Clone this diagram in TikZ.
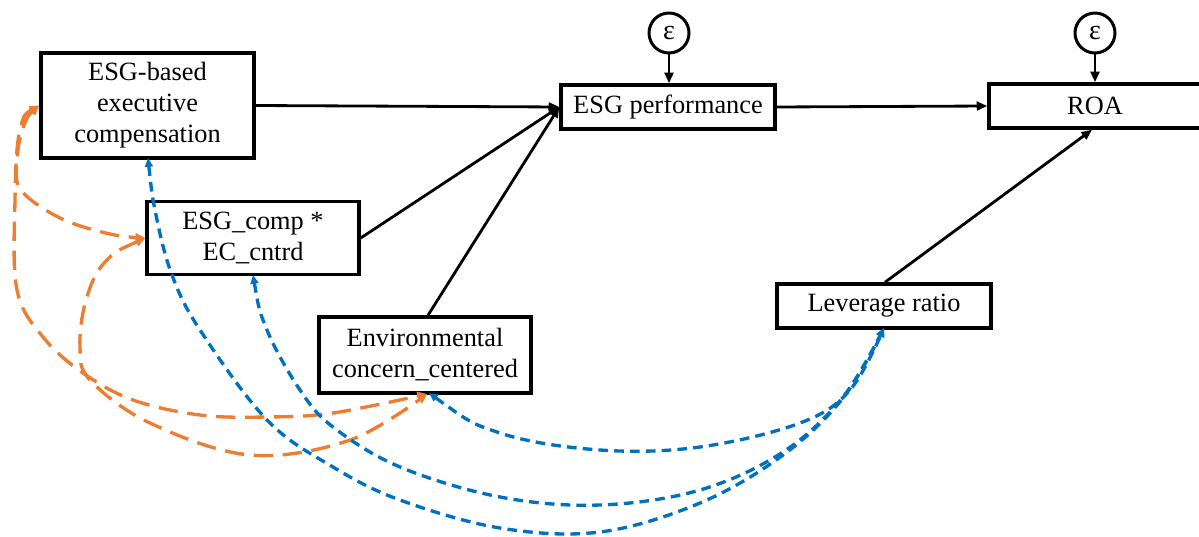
\documentclass[tikz,border=0pt]{standalone}
\usepackage{fontspec}
\setmainfont{Liberation Serif}
\usetikzlibrary{arrows.meta}
\definecolor{myblue}{RGB}{0,112,192}
\definecolor{myorange}{RGB}{237,125,49}
\begin{document}
\begin{tikzpicture}[x=0.02cm,y=-0.02cm,
  box/.style={draw=black,line width=2pt,fill=white,align=center,inner sep=0pt,
    font=\fontsize{15}{17.6}\selectfont},
  errc/.style={draw=black,circle,line width=1.7pt,minimum size=0.8cm,inner sep=0pt,
    font=\fontsize{16}{18}\selectfont},
  path/.style={draw=black,line width=1.6pt,-{Triangle[length=6pt,width=5pt]}},
  covb/.style={draw=myblue,line width=1.9pt,dash pattern=on 5.5pt off 3.5pt,
    {Triangle[length=5pt,width=4.5pt]}-{Triangle[length=5pt,width=4.5pt]}},
  covo/.style={draw=myorange,line width=1.9pt,dash pattern=on 11pt off 5.5pt,
    {Triangle[length=5.5pt,width=5pt]}-{Triangle[length=5.5pt,width=5pt]}}
]
\useasboundingbox (0,0) rectangle (1199,537);

% nodes
\node[box,minimum width=4.26cm,minimum height=2.1cm] (esg) at (147.5,105.5) {ESG-based\\executive\\compensation};
\node[box,minimum width=4.24cm,minimum height=1.46cm] (inter) at (253,238) {ESG\_comp *\\EC\_cntrd};
\node[box,minimum width=4.24cm,minimum height=1.52cm] (env) at (425,355) {Environmental\\concern\_centered};
\node[box,minimum width=4.28cm,minimum height=0.88cm] (perf) at (668,107) {ESG performance};
\node[box,minimum width=4.24cm,minimum height=0.88cm] (roa) at (1095,106) {ROA};
\node[box,minimum width=4.28cm,minimum height=0.88cm] (lev) at (884,306) {Leverage ratio};
\node[errc] (e1) at (669,33) {ε};
\node[errc] (e2) at (1095,33) {ε};

% orange covariances
\draw[covo] plot[smooth,tension=0.6] coordinates {(esg.west) (24,125) (17,160) (21,190) (60,218) (110,234) (inter.west)};
\draw[covo] plot[smooth,tension=0.6] coordinates {(esg.west) (20,130) (15,200) (17,290) (43,337) (83,373) (133,400) (200,415) (267,417) (333,413) (427,394)};
\draw[covo] plot[smooth,tension=0.6] coordinates {(inter.west) (105,262) (86,300) (80,347) (90,380) (150,423) (250,455) (350,440) (427,394)};

% blue covariances
\draw[covb] plot[smooth,tension=0.6] coordinates {(148,158) (156,215) (172,275) (200,330) (267,420) (333,467) (400,500) (500,528) (600,532) (700,503) (783,455) (843,398) (884,328)};
\draw[covb] plot[smooth,tension=0.6] coordinates {(253,275) (267,330) (300,390) (333,427) (400,467) (500,497) (600,505) (700,490) (783,452) (843,397) (884,328)};
\draw[covb] plot[smooth,tension=0.6] coordinates {(429,393) (500,433) (600,450) (700,447) (800,423) (850,390) (884,328)};

% paths
\draw[path] (esg.east) -- (perf.west);
\draw[path] (inter.east) -- (perf.west);
\draw[path] (env.north -| 428,0) -- (perf.west);
\draw[path] (perf.east) -- (roa.west);
\draw[path] (lev.north -| 885,0) -- (roa.south -| 1092,0);
\draw[path] (e1) -- (perf.north -| e1);
\draw[path] (e2) -- (roa.north -| e2);
\end{tikzpicture}
\end{document}
